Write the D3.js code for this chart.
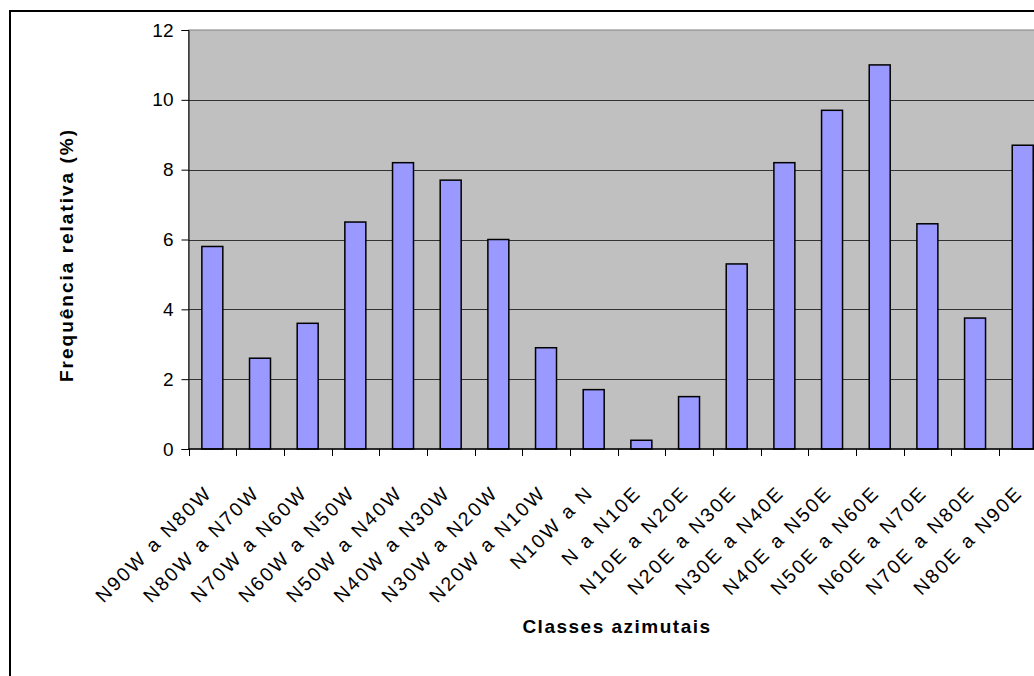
<!DOCTYPE html>
<html>
<head>
<meta charset="utf-8">
<script src="https://cdn.jsdelivr.net/npm/d3@7"></script>
<style>
  body { margin: 0; background: #fff; }
  svg { display: block; font-family: "Liberation Sans", Arial, sans-serif; }
</style>
</head>
<body>
<svg id="chart" width="1034" height="676"></svg>
<script>
// classes azimutais e frequência relativa (%)
var categories = ["N90W a N80W", "N80W a N70W", "N70W a N60W", "N60W a N50W", "N50W a N40W",
    "N40W a N30W", "N30W a N20W", "N20W a N10W", "N10W a N", "N a N10E", "N10E a N20E",
    "N20E a N30E", "N30E a N40E", "N40E a N50E", "N50E a N60E", "N60E a N70E",
    "N70E a N80E", "N80E a N90E"];
var freq = [5.8, 2.6, 3.6, 6.5, 8.2, 7.7, 6.0, 2.9, 1.7, 0.25, 1.5, 5.3, 8.2, 9.7, 11.0, 6.45, 3.75, 8.7];
var yTicks = [0, 2, 4, 6, 8, 10, 12];

var svg = d3.select("#chart");

var plotLeft = 188.5, plotTop = 30, plotBottom = 449, step = 47.67;
var plotRight = plotLeft + step * categories.length;

// borda externa do gráfico
svg.append("rect")
    .attr("x", 10).attr("y", 11)
    .attr("width", 1040).attr("height", 700)
    .attr("fill", "#fff").attr("stroke", "#000").attr("stroke-width", 2);

var x = d3.scaleBand()
    .domain(categories)
    .range([plotLeft, plotRight])
    .paddingInner(0.56)
    .paddingOuter(0.28);

var y = d3.scaleLinear()
    .domain([0, 12])
    .range([plotBottom, plotTop]);

// área de plotagem
svg.append("rect")
    .attr("x", plotLeft).attr("y", plotTop)
    .attr("width", plotRight - plotLeft).attr("height", plotBottom - plotTop)
    .attr("fill", "#c0c0c0").attr("stroke", "#808080").attr("stroke-width", 1);

// linhas de grade
svg.append("g")
    .selectAll("line")
    .data(yTicks.filter(function(d) { return d > 0 && d < 12; }))
    .enter().append("line")
    .attr("x1", plotLeft).attr("x2", plotRight)
    .attr("y1", function(d) { return Math.round(y(d)) + 0.5; })
    .attr("y2", function(d) { return Math.round(y(d)) + 0.5; })
    .attr("stroke", "#333").attr("stroke-width", 1);

// barras
svg.append("g")
    .selectAll("rect")
    .data(freq)
    .enter().append("rect")
    .attr("x", function(d, i) { return x(categories[i]); })
    .attr("y", function(d) { return y(d); })
    .attr("width", x.bandwidth())
    .attr("height", function(d) { return plotBottom - y(d); })
    .attr("fill", "#9999ff")
    .attr("stroke", "#000")
    .attr("stroke-width", 1.5);

// eixo y
var yAxis = svg.append("g")
    .attr("transform", "translate(" + plotLeft + ",0)")
    .call(d3.axisLeft(y).tickValues(yTicks).tickSize(7).tickPadding(8));
yAxis.select(".domain").attr("stroke", "#000");
yAxis.selectAll(".tick line").attr("stroke", "#000");
yAxis.selectAll("text")
    .attr("font-family", "Liberation Sans, Arial, sans-serif")
    .attr("font-size", 19).attr("fill", "#000");

// eixo x: linha base e marcas entre as classes
svg.append("line")
    .attr("x1", plotLeft).attr("x2", plotRight)
    .attr("y1", plotBottom).attr("y2", plotBottom)
    .attr("stroke", "#000").attr("stroke-width", 1.5);

var xTicks = d3.range(categories.length + 1);
svg.append("g")
    .selectAll("line")
    .data(xTicks)
    .enter().append("line")
    .attr("x1", function(i) { return Math.round(plotLeft + i * step) + 0.5; })
    .attr("x2", function(i) { return Math.round(plotLeft + i * step) + 0.5; })
    .attr("y1", plotBottom).attr("y2", plotBottom + 7)
    .attr("stroke", "#000");

svg.append("g")
    .selectAll("text")
    .data(categories)
    .enter().append("text")
    .attr("transform", function(d) {
        return "translate(" + (x(d) + x.bandwidth() / 2 + 1) + "," + (plotBottom + 45) + ") rotate(-45)";
    })
    .attr("text-anchor", "end")
    .attr("font-size", 19.5)
    .attr("letter-spacing", 2.3)
    .attr("fill", "#000")
    .text(function(d) { return d; });

// títulos dos eixos
svg.append("text")
    .attr("x", 617).attr("y", 633)
    .attr("text-anchor", "middle")
    .attr("font-size", 19).attr("font-weight", "bold")
    .attr("letter-spacing", 1.5)
    .text("Classes azimutais");

svg.append("text")
    .attr("transform", "translate(73,255) rotate(-90)")
    .attr("text-anchor", "middle")
    .attr("font-size", 19).attr("font-weight", "bold")
    .attr("letter-spacing", 2)
    .text("Frequência relativa (%)");
</script>
</body>
</html>
